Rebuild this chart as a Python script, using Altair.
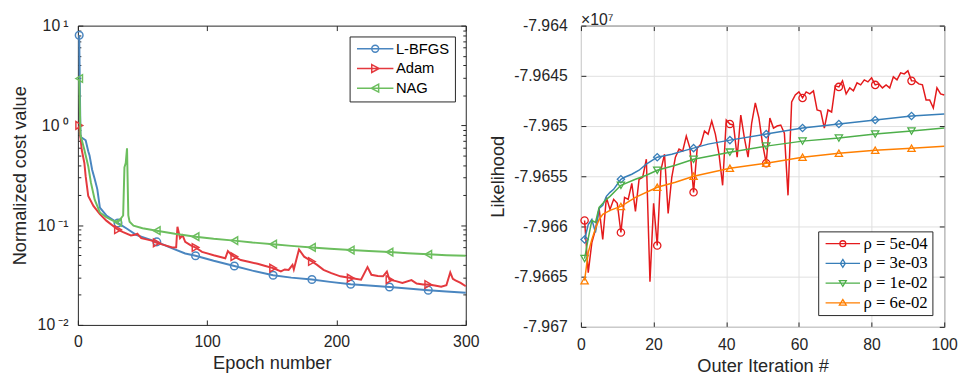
import altair as alt
import pandas as pd

# ---------------- Left panel data (normalized cost vs epoch) ----------------
methods = ["L-BFGS", "Adam", "NAG"]
method_colors = ["#4A86C0", "#E4393E", "#6CBE5E"]
method_shapes = ["circle", "triangle-right", "triangle-left"]

lbfgs_epoch = [1, 2, 6, 8, 9, 11, 13, 15, 17, 22, 30, 31, 38, 45, 61, 73, 83, 91,
               105, 121, 135, 151, 165, 181, 195, 211, 225, 241, 255, 271, 285, 300]
lbfgs_cost = [8.0, 0.77, 0.71, 0.55, 0.5, 0.36, 0.29, 0.23, 0.15, 0.125, 0.107, 0.105,
              0.092, 0.080, 0.068, 0.0585, 0.052, 0.0494, 0.044, 0.039, 0.035, 0.0315,
              0.0298, 0.0285, 0.027, 0.0256, 0.0248, 0.024, 0.0232, 0.0223, 0.0216, 0.021]

adam_epoch = [1, 2, 3, 5, 6, 8, 12, 17, 22, 31, 35, 41, 44, 46, 49, 53, 57, 61, 67,
              73, 76, 77, 79, 81, 83, 87, 91, 96, 105, 114, 116, 119, 121, 126, 132,
              139, 145, 151, 157, 160, 163, 166, 167, 171, 175, 181, 185, 190, 196,
              203, 211, 219, 224, 227, 232, 236, 239, 241, 246, 251, 258, 262, 267,
              271, 276, 281, 285, 288, 290, 292, 296, 300]
adam_cost = [1.0, 0.75, 0.567, 0.42, 0.31, 0.196, 0.156, 0.129, 0.111, 0.090, 0.085,
             0.079, 0.080, 0.082, 0.074, 0.072, 0.070, 0.0665, 0.063, 0.0597, 0.060,
             0.0965, 0.074, 0.079, 0.068, 0.063, 0.0597, 0.054, 0.050, 0.0466, 0.055,
             0.050, 0.0483, 0.0447, 0.043, 0.041, 0.039, 0.0371, 0.0344, 0.036, 0.0356,
             0.040, 0.036, 0.0571, 0.0483, 0.0432, 0.040, 0.0357, 0.033, 0.0307, 0.0295,
             0.0284, 0.038, 0.0318, 0.031, 0.0307, 0.0343, 0.0284, 0.0275, 0.0264, 0.0281,
             0.026, 0.0254, 0.0254, 0.0248, 0.0241, 0.025, 0.0336, 0.029, 0.028, 0.0264,
             0.0244]

nag_epoch = [1, 2, 5, 8, 10, 13, 17, 22, 27, 31, 35, 36, 37, 38, 39, 40, 43, 50, 61,
             75, 91, 105, 121, 135, 151, 165, 181, 195, 211, 225, 241, 255, 271, 285, 300]
nag_cost = [2.95, 0.8, 0.57, 0.39, 0.27, 0.18, 0.134, 0.12, 0.111, 0.107, 0.125, 0.38,
            0.42, 0.59, 0.125, 0.108, 0.099, 0.093, 0.088, 0.082, 0.0767, 0.073, 0.070,
            0.067, 0.0645, 0.062, 0.0598, 0.058, 0.0563, 0.055, 0.0537, 0.0523, 0.051,
            0.050, 0.0494]

left_x_ticks = [0, 100, 200, 300]
left_y_major = [0.01, 0.1, 1, 10]
left_y_minor = [0.02, 0.03, 0.04, 0.05, 0.06, 0.07, 0.08, 0.09,
                0.2, 0.3, 0.4, 0.5, 0.6, 0.7, 0.8, 0.9,
                2, 3, 4, 5, 6, 7, 8, 9]

# ---------------- Right panel data (likelihood vs outer iteration) ----------------
rhos = ["ρ = 5e-04", "ρ = 3e-03", "ρ = 1e-02", "ρ = 6e-02"]
rho_colors = ["#E41A1C", "#377EB8", "#4DAF4A", "#FF7F00"]
rho_shapes = ["circle", "diamond", "triangle-down", "triangle-up"]

red_iter = list(range(1, 101))
red_val = [-7.96594, -7.96646, -7.96616, -7.96603, -7.96582, -7.96613, -7.96571, -7.96583, -7.96573, -7.96577,
           -7.96606, -7.96571, -7.96573, -7.96557, -7.96585, -7.96553, -7.96551, -7.96533, -7.96655, -7.96577,
           -7.96619, -7.96544, -7.96528, -7.96587, -7.96551, -7.96531, -7.96523, -7.96525, -7.96510, -7.96522,
           -7.96566, -7.96522, -7.96518, -7.96505, -7.96508, -7.96495, -7.96508, -7.96528, -7.96559, -7.96494,
           -7.96498, -7.96499, -7.96531, -7.96489, -7.96512, -7.96531, -7.96497, -7.96477, -7.96492, -7.96518,
           -7.96537, -7.96492, -7.96502, -7.96500, -7.96499, -7.96507, -7.96569, -7.96476, -7.96469, -7.96466,
           -7.96472, -7.96466, -7.96468, -7.96465, -7.96484, -7.96485, -7.96502, -7.96484, -7.96486, -7.96460,
           -7.96461, -7.96455, -7.96468, -7.96462, -7.96465, -7.96457, -7.96459, -7.96454, -7.96456, -7.96452,
           -7.96459, -7.96458, -7.96462, -7.96459, -7.96462, -7.96451, -7.96454, -7.96447, -7.96448, -7.96445,
           -7.96455, -7.96455, -7.96458, -7.96459, -7.96474, -7.96474, -7.96482, -7.96462, -7.96468, -7.96469]

blue_iter = [1, 2, 3, 4, 5, 6, 7, 8, 9, 10, 11, 12, 14, 16, 18, 21, 25, 28, 31, 35, 41,
             51, 61, 71, 81, 91, 100]
blue_val = [-7.96613, -7.96598, -7.96593, -7.96606, -7.96582, -7.96579, -7.96570, -7.96566,
            -7.96563, -7.96558, -7.96553, -7.96551, -7.96548, -7.96544, -7.96538, -7.96531,
            -7.96528, -7.96525, -7.96522, -7.96518, -7.96514, -7.96508, -7.96502, -7.96498,
            -7.96494, -7.96490, -7.96488]

green_iter = [1, 2, 3, 4, 5, 6, 7, 8, 11, 15, 18, 21, 26, 31, 41, 51, 61, 71, 81, 91, 100]
green_val = [-7.96632, -7.96612, -7.96594, -7.96596, -7.96581, -7.96577, -7.96573, -7.96570,
             -7.96559, -7.96553, -7.96549, -7.96544, -7.96539, -7.96533, -7.96526, -7.96520,
             -7.96515, -7.96512, -7.96508, -7.96505, -7.96502]

orange_iter = [1, 2, 3, 4, 5, 6, 8, 11, 15, 21, 26, 31, 41, 51, 61, 71, 81, 91, 100]
orange_val = [-7.96654, -7.96626, -7.96613, -7.96602, -7.96593, -7.96588, -7.96584, -7.96580,
              -7.96571, -7.96561, -7.96556, -7.96550, -7.96542, -7.96537, -7.96531, -7.96527,
              -7.96524, -7.96522, -7.96520]

right_x_ticks = [0, 20, 40, 60, 80, 100]
right_y_ticks = [-7.967, -7.9665, -7.966, -7.9655, -7.965, -7.9645, -7.964]

# ---------------- styling ----------------
FONT = "Liberation Sans"
SERIF = "Liberation Serif"
TXT = "#262626"
LW, LH = 394, 304
RW, RH = 369, 306

# legend symbols: line segment + open marker (unit = sqrt(symbolSize)/2 px)
left_legend_paths = [
    "M-1,0H6.4M3.4,0A0.7,0.7 0 1,1 2.0,0A0.7,0.7 0 1,1 3.4,0",
    "M-1,0H6.4M2.0,-0.8L3.5,0L2.0,0.8Z",
    "M-1,0H6.4M3.4,-0.8L1.9,0L3.4,0.8Z",
]
right_legend_paths = [
    "M-1,0H6M3.1,0A0.6,0.6 0 1,1 1.9,0A0.6,0.6 0 1,1 3.1,0",
    "M-1,0H6M2.5,-0.8L3.0,0L2.5,0.8L2.0,0Z",
    "M-1,0H6M1.8,-0.5L3.2,-0.5L2.5,0.65Z",
    "M-1,0H6M1.8,0.5L3.2,0.5L2.5,-0.65Z",
]


def long_df(names, xs_list, ys_list, xn, yn, sn):
    rows = []
    for n, xs, ys in zip(names, xs_list, ys_list):
        for a, b in zip(xs, ys):
            rows.append({xn: a, yn: b, sn: n})
    return pd.DataFrame(rows)


# ================= LEFT =================
ldf = long_df(methods, [lbfgs_epoch, adam_epoch, nag_epoch],
              [lbfgs_cost, adam_cost, nag_cost], "epoch", "cost", "method")

major_test = "datum.value == 0.01 || datum.value == 0.1 || datum.value == 1 || datum.value == 10"
lx = alt.X("epoch:Q", scale=alt.Scale(domain=[0, 300], nice=False, zero=False),
           axis=alt.Axis(values=left_x_ticks, title="Epoch number", grid=True,
                         gridColor=TXT, gridDash=[5, LH - 10], gridWidth=1, gridOpacity=1,
                         ticks=False, domain=False, labelPadding=9, titlePadding=4,
                         labelFlush=False, labelOverlap=False,
                         labelFontSize=16, titleFontSize=18.5, labelFont=FONT,
                         titleFont=FONT, labelColor=TXT, titleColor=TXT,
                         titleFontWeight="normal"))
ly = alt.Y("cost:Q", scale=alt.Scale(type="log", domain=[0.01, 10], nice=False),
           axis=alt.Axis(values=left_y_major + left_y_minor,
                         labelExpr="datum.value == 10 ? '10\u2009¹' : datum.value == 1 ? '10\u2009⁰' : datum.value == 0.1 ? '10\u2009⁻¹' : datum.value == 0.01 ? '10\u2009⁻²' : ''",
                         title="Normalized cost value", grid=True, gridColor=TXT,
                         gridDash={"condition": {"test": "!(" + major_test + ")", "value": [3, LW - 6]},
                                   "value": [5, LW - 10]},
                         gridWidth=1, gridOpacity=1, ticks=False, domain=False,
                         labelPadding=10, titlePadding=8, labelFlush=False, labelOverlap=False,
                         labelFontSize=16, titleFontSize=18.5, labelFont=FONT, titleFont=FONT,
                         labelColor=TXT, titleColor=TXT, titleFontWeight="normal"))

left_layers = []
for m, c, s in zip(methods, method_colors, method_shapes):
    base = alt.Chart(ldf).transform_filter(alt.datum.method == m)
    left_layers.append(base.mark_line(color=c, strokeWidth=2).encode(x=lx, y=ly))
    left_layers.append(
        base.transform_filter("(datum.epoch - 1) % 30 == 0")
        .mark_point(shape=s, filled=False, size=60, strokeWidth=1.5, opacity=1, color=c)
        .encode(x=lx, y=ly))

left_legend = alt.Legend(title=None, orient="top-right", offset=11, fillColor="white",
                         strokeColor=TXT, padding=5, labelFontSize=15, labelFont=FONT,
                         labelColor="#000000", symbolSize=100, symbolStrokeWidth=1.5,
                         labelOffset=27, rowPadding=4)
left_layers.append(
    alt.Chart(ldf).transform_filter("datum.epoch < -1000")
    .mark_point(filled=False, strokeWidth=1.5, opacity=1)
    .encode(x=lx, y=ly,
            color=alt.Color("method:N", scale=alt.Scale(domain=methods, range=method_colors),
                            legend=left_legend),
            shape=alt.Shape("method:N", scale=alt.Scale(domain=methods, range=left_legend_paths),
                            legend=left_legend)))

left = alt.layer(*left_layers).properties(width=LW, height=LH)

# ================= RIGHT =================
rdf = long_df(rhos, [red_iter, blue_iter, green_iter, orange_iter],
              [red_val, blue_val, green_val, orange_val], "it", "lik", "rho")

rx_scale = alt.Scale(domain=[0, 100], nice=False, zero=False)
ry_scale = alt.Scale(domain=[-7.967, -7.964], nice=False, zero=False)

rx_main = alt.X("it:Q", scale=rx_scale,
                axis=alt.Axis(orient="bottom", values=right_x_ticks, title="Outer Iteration #",
                              grid=True, gridColor="#DFDFDF", gridWidth=1, ticks=False,
                              domain=False, labelPadding=10, titlePadding=4, labelFlush=False,
                              labelOverlap=False, labelFontSize=16, titleFontSize=18.5,
                              labelFont=FONT, titleFont=FONT, labelColor=TXT, titleColor=TXT,
                              titleFontWeight="normal"))
ry_main = alt.Y("lik:Q", scale=ry_scale,
                axis=alt.Axis(orient="left", values=right_y_ticks, title="Likelihood",
                              labelExpr="'-' + format(-datum.value, '.4~f')",
                              grid=True, gridColor="#DFDFDF", gridWidth=1, ticks=False,
                              domain=False, labelPadding=14, titlePadding=6, labelFlush=False,
                              labelOverlap=False, labelFontSize=16, titleFontSize=18.5,
                              labelFont=FONT, titleFont=FONT, labelColor=TXT, titleColor=TXT,
                              titleFontWeight="normal"))
rx_tick = alt.X("it:Q", scale=rx_scale,
                axis=alt.Axis(orient="top", values=right_x_ticks, title=None, labels=False,
                              grid=True, gridColor=TXT, gridDash=[5, RH - 10], gridWidth=1,
                              ticks=False, domain=False))
ry_tick = alt.Y("lik:Q", scale=ry_scale,
                axis=alt.Axis(orient="right", values=right_y_ticks, title=None, labels=False,
                              grid=True, gridColor=TXT, gridDash=[5, RW - 10], gridWidth=1,
                              ticks=False, domain=False))
rx_none = alt.X("it:Q", scale=rx_scale, axis=None)
ry_none = alt.Y("lik:Q", scale=ry_scale, axis=None)

right_layers = []
for i, (r, c, s) in enumerate(zip(rhos, rho_colors, rho_shapes)):
    base = alt.Chart(rdf).transform_filter(alt.datum.rho == r)
    if i == 0:
        enc = dict(x=rx_main, y=ry_main)
    else:
        enc = dict(x=rx_none, y=ry_none)
    right_layers.append(base.mark_line(color=c, strokeWidth=1.5).encode(**enc))
    right_layers.append(
        base.transform_filter("datum.it % 10 == 1")
        .mark_point(shape=s, filled=False, size=55, strokeWidth=1.3, opacity=1, color=c)
        .encode(x=rx_none, y=ry_none))

right_legend = alt.Legend(title=None, orient="bottom-right", offset=12, fillColor="white",
                          strokeColor=TXT, padding=4, labelFontSize=17, labelFont=SERIF,
                          labelColor="#000000", symbolSize=100, symbolStrokeWidth=1.3,
                          labelOffset=25, rowPadding=2)
right_layers.append(
    alt.Chart(rdf).transform_filter("datum.it < -1000")
    .mark_point(filled=False, strokeWidth=1.3, opacity=1)
    .encode(x=rx_tick, y=ry_tick,
            color=alt.Color("rho:N", scale=alt.Scale(domain=rhos, range=rho_colors),
                            legend=right_legend),
            shape=alt.Shape("rho:N", scale=alt.Scale(domain=rhos, range=right_legend_paths),
                            legend=right_legend)))

right = (alt.layer(*right_layers)
         .resolve_axis(x="independent", y="independent")
         .properties(width=RW, height=RH,
                     title=alt.TitleParams("×10⁷", anchor="start", frame="group",
                                           fontSize=16, font=FONT, fontWeight="normal",
                                           color=TXT, offset=-10)))

chart = (alt.hconcat(left, right, spacing=9)
         .resolve_scale(color="independent", shape="independent")
         .properties(padding={"left": 2, "top": 0, "right": 0, "bottom": 0})
         .configure_view(stroke=TXT, strokeWidth=1)
         .configure_legend(labelFont=SERIF))

chart.save("out.html", embed_options={"renderer": "svg", "actions": False})
